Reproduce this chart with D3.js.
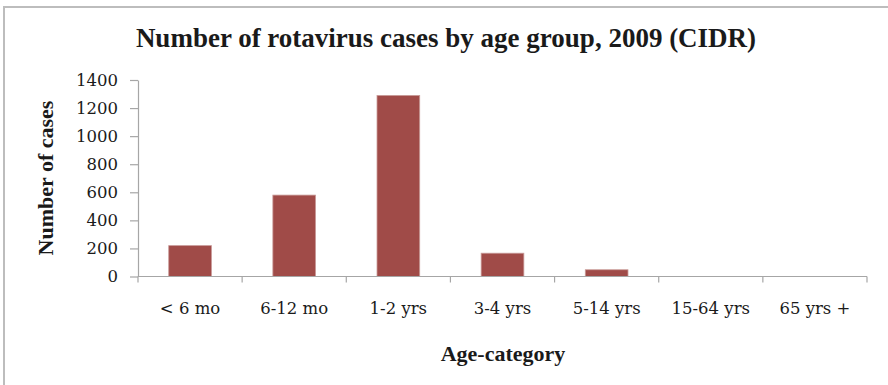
<!DOCTYPE html>
<html>
<head>
<meta charset="utf-8">
<script src="https://cdn.jsdelivr.net/npm/d3@7"></script>
<style>
  html, body { margin: 0; padding: 0; background: #fff; }
  svg { display: block; }
</style>
</head>
<body>
<svg id="chart" width="888" height="385"></svg>
<script>
// Rotavirus notifications by age group, 2009
const categories = ["< 6 mo", "6-12 mo", "1-2 yrs", "3-4 yrs", "5-14 yrs", "15-64 yrs", "65 yrs +"];
const cases = [220, 580, 1290, 166, 48, 0, 0];
const yTicks = [0, 200, 400, 600, 800, 1000, 1200, 1400];

const labelFont = "'DejaVu Serif', 'Liberation Serif', serif";
const titleFont = "'Liberation Serif', 'DejaVu Serif', serif";
const ink = "#1a1a1a";

const svg = d3.select("#chart");
const W = 888, H = 385;
const plot = { left: 138, right: 867, top: 80, bottom: 276.5 };

// outer frame (top and left edges)
svg.append("path")
  .attr("d", `M4,${H} V7 H${W}`)
  .attr("fill", "none")
  .attr("stroke", "#bdbdbd")
  .attr("stroke-width", 2);

const x = d3.scaleBand()
  .domain(categories)
  .range([plot.left, plot.right])
  .paddingInner(0.59)
  .paddingOuter(0.295);

const y = d3.scaleLinear()
  .domain([0, 1400])
  .range([plot.bottom, plot.top]);

// bars
svg.append("g")
  .selectAll("rect")
  .data(categories.map((c, i) => ({ c, v: cases[i] })))
  .join("rect")
  .attr("x", d => x(d.c))
  .attr("y", d => y(d.v))
  .attr("width", x.bandwidth())
  .attr("height", d => y(0) - y(d.v))
  .attr("fill", "#a04b48")
  .attr("stroke", "#c99a98")
  .attr("stroke-width", 0.8);

// y axis
const yAxis = svg.append("g")
  .attr("transform", `translate(${plot.left},0)`)
  .call(d3.axisLeft(y).tickValues(yTicks).tickFormat(d3.format("d"))
    .tickSize(8).tickPadding(12).tickSizeOuter(0));
yAxis.select(".domain").attr("stroke", "#a6a6a6").attr("stroke-width", 1.2);
yAxis.selectAll(".tick line").attr("stroke", "#a6a6a6").attr("stroke-width", 1.2);
yAxis.selectAll(".tick text")
  .style("font-family", labelFont)
  .style("font-size", "16.5px")
  .style("fill", ink);

// x axis with boundary ticks between categories
const xg = svg.append("g").attr("transform", `translate(0,${plot.bottom})`);
xg.append("line")
  .attr("x1", plot.left).attr("x2", plot.right)
  .attr("stroke", "#a6a6a6").attr("stroke-width", 1.2);
const bounds = d3.range(categories.length + 1)
  .map(i => plot.left + i * (plot.right - plot.left) / categories.length);
xg.selectAll("line.b")
  .data(bounds)
  .join("line")
  .attr("class", "b")
  .attr("x1", d => d).attr("x2", d => d)
  .attr("y1", 0).attr("y2", 6)
  .attr("stroke", "#a6a6a6").attr("stroke-width", 1.2);
xg.selectAll("text")
  .data(categories)
  .join("text")
  .attr("x", d => x(d) + x.bandwidth() / 2)
  .attr("y", 37.5)
  .attr("text-anchor", "middle")
  .style("font-family", labelFont)
  .style("font-size", "16.5px")
  .style("fill", ink)
  .text(d => d);

// titles
svg.append("text")
  .attr("x", 446).attr("y", 47)
  .attr("text-anchor", "middle")
  .style("font-family", titleFont)
  .style("font-size", "27px")
  .style("font-weight", "bold")
  .style("fill", ink)
  .text("Number of rotavirus cases by age group, 2009 (CIDR)");

svg.append("text")
  .attr("x", 503).attr("y", 361)
  .attr("text-anchor", "middle")
  .style("font-family", titleFont)
  .style("font-size", "22px")
  .style("font-weight", "bold")
  .style("fill", ink)
  .text("Age-category");

svg.append("text")
  .attr("transform", "translate(53,178) rotate(-90)")
  .attr("text-anchor", "middle")
  .style("font-family", titleFont)
  .style("font-size", "22px")
  .style("font-weight", "bold")
  .style("fill", ink)
  .text("Number of cases");
</script>
</body>
</html>
